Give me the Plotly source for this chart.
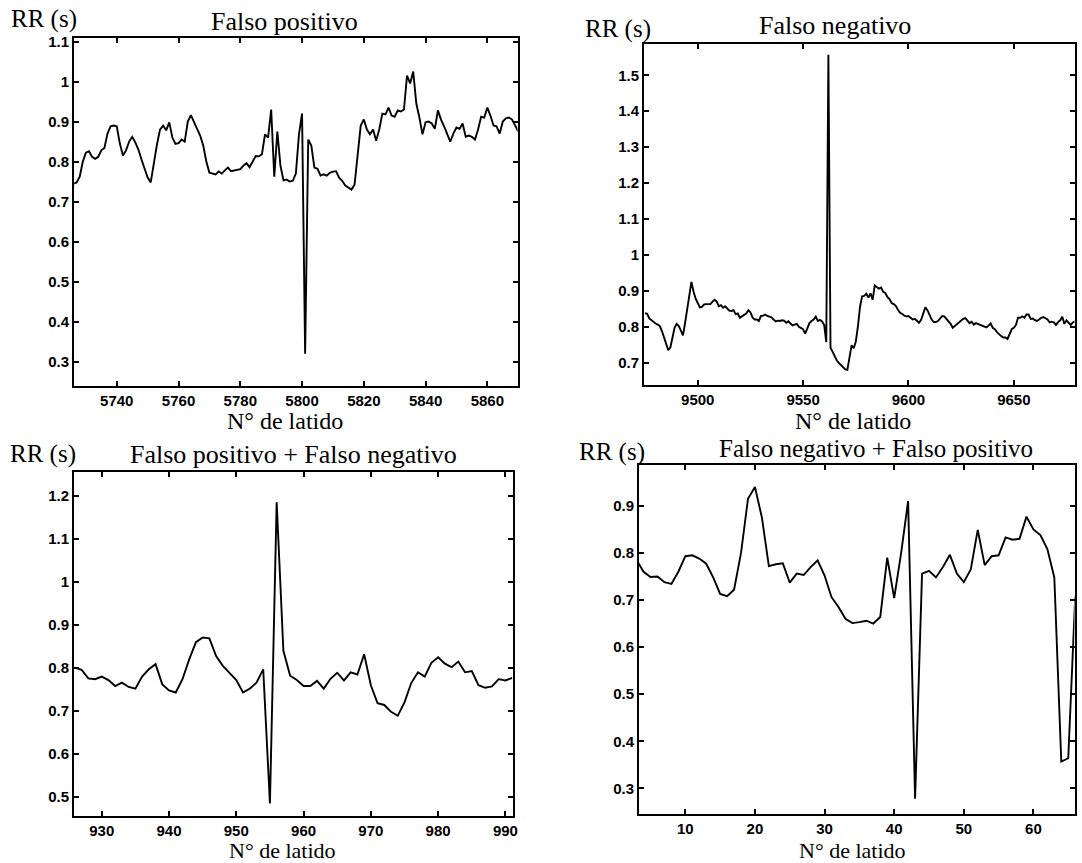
import plotly.graph_objects as go

W, H = 1082, 863

# ---------------- data ----------------
# Panel 1: Falso positivo (beats 5726..5870)
p1_start = 5726
p1_rr = [0.745, 0.748, 0.762, 0.800, 0.822, 0.826, 0.812, 0.807, 0.812, 0.828,
         0.834, 0.870, 0.888, 0.890, 0.888, 0.845, 0.815, 0.828, 0.850, 0.862,
         0.848, 0.830, 0.805, 0.782, 0.760, 0.748, 0.800, 0.842, 0.880, 0.890,
         0.878, 0.898, 0.860, 0.844, 0.846, 0.855, 0.850, 0.900, 0.916, 0.900,
         0.882, 0.865, 0.840, 0.800, 0.772, 0.770, 0.768, 0.775, 0.770, 0.778,
         0.785, 0.776, 0.778, 0.780, 0.781, 0.790, 0.796, 0.786, 0.800, 0.814,
         0.813, 0.818, 0.868, 0.860, 0.930, 0.762, 0.875, 0.790, 0.753, 0.755,
         0.750, 0.752, 0.770, 0.868, 0.920, 0.320, 0.855, 0.840, 0.785, 0.782,
         0.765, 0.768, 0.765, 0.772, 0.775, 0.776, 0.760, 0.752, 0.740, 0.735,
         0.730, 0.742, 0.820, 0.890, 0.905, 0.880, 0.868, 0.880, 0.852, 0.880,
         0.920, 0.918, 0.935, 0.915, 0.912, 0.928, 0.925, 0.930, 1.015, 0.995,
         1.025, 0.945, 0.910, 0.868, 0.898, 0.900, 0.895, 0.882, 0.928, 0.905,
         0.888, 0.870, 0.850, 0.870, 0.885, 0.882, 0.895, 0.862, 0.865, 0.862,
         0.855, 0.880, 0.912, 0.910, 0.935, 0.915, 0.890, 0.888, 0.870, 0.900,
         0.908, 0.910, 0.905, 0.890, 0.875]

# Panel 2: Falso negativo (beats 9475..9679)
p2_start = 9475
p2_rr = [0.838, 0.836, 0.823, 0.818, 0.815, 0.809, 0.806, 0.802, 0.788, 0.770,
         0.749, 0.735, 0.742, 0.770, 0.797, 0.808, 0.802, 0.789, 0.776, 0.811,
         0.852, 0.880, 0.925, 0.898, 0.878, 0.866, 0.854, 0.855, 0.862, 0.863,
         0.864, 0.863, 0.870, 0.875, 0.870, 0.857, 0.860, 0.853, 0.857, 0.852,
         0.845, 0.844, 0.846, 0.835, 0.837, 0.825, 0.828, 0.833, 0.837, 0.846,
         0.840, 0.826, 0.820, 0.820, 0.816, 0.830, 0.831, 0.834, 0.830, 0.827,
         0.826, 0.820, 0.815, 0.817, 0.816, 0.818, 0.817, 0.811, 0.815, 0.809,
         0.804, 0.806, 0.808, 0.800, 0.797, 0.793, 0.781, 0.797, 0.810, 0.816,
         0.820, 0.828, 0.816, 0.819, 0.815, 0.805, 0.757, 1.557, 0.742, 0.730,
         0.716, 0.706, 0.699, 0.693, 0.687, 0.681, 0.680, 0.712, 0.748, 0.740,
         0.758, 0.800, 0.855, 0.885, 0.886, 0.892, 0.881, 0.893, 0.875, 0.915,
         0.911, 0.906, 0.909, 0.897, 0.894, 0.883, 0.877, 0.866, 0.863, 0.858,
         0.847, 0.839, 0.836, 0.831, 0.829, 0.830, 0.825, 0.820, 0.822, 0.816,
         0.811, 0.819, 0.836, 0.854, 0.846, 0.834, 0.820, 0.813, 0.813, 0.816,
         0.824, 0.830, 0.829, 0.822, 0.814, 0.808, 0.797, 0.802, 0.806, 0.813,
         0.817, 0.822, 0.824, 0.818, 0.810, 0.814, 0.806, 0.810, 0.808, 0.804,
         0.803, 0.801, 0.798, 0.803, 0.809, 0.797, 0.793, 0.785, 0.779, 0.774,
         0.770, 0.770, 0.766, 0.779, 0.793, 0.797, 0.805, 0.825, 0.825, 0.829,
         0.825, 0.834, 0.834, 0.822, 0.823, 0.818, 0.816, 0.820, 0.825, 0.827,
         0.823, 0.820, 0.812, 0.814, 0.812, 0.805, 0.813, 0.818, 0.828, 0.808,
         0.818, 0.812, 0.805, 0.812, 0.815]

# Panel 3: Falso positivo + Falso negativo (beats 926..991)
p3_start = 926
p3_rr = [0.801, 0.796, 0.776, 0.774, 0.780, 0.772, 0.758, 0.766, 0.756, 0.752,
         0.780, 0.797, 0.809, 0.762, 0.748, 0.743, 0.774, 0.820, 0.860, 0.871,
         0.869, 0.828, 0.805, 0.789, 0.772, 0.743, 0.752, 0.766, 0.797, 0.485,
         1.186, 0.840, 0.782, 0.772, 0.758, 0.758, 0.770, 0.752, 0.775, 0.789,
         0.771, 0.790, 0.785, 0.832, 0.760, 0.718, 0.714, 0.698, 0.689, 0.720,
         0.765, 0.790, 0.780, 0.812, 0.825, 0.810, 0.802, 0.815, 0.790, 0.793,
         0.760, 0.754, 0.757, 0.774, 0.771, 0.777]

# Panel 4: Falso negativo + Falso positivo (beats 3..66)
p4_start = 3
p4_rr = [0.785, 0.760, 0.749, 0.750, 0.738, 0.734, 0.760, 0.793, 0.795, 0.788,
         0.777, 0.748, 0.713, 0.708, 0.722, 0.800, 0.915, 0.940, 0.875, 0.772,
         0.776, 0.778, 0.737, 0.756, 0.753, 0.770, 0.784, 0.752, 0.706, 0.685,
         0.660, 0.651, 0.653, 0.656, 0.650, 0.664, 0.790, 0.704, 0.800, 0.910,
         0.278, 0.756, 0.762, 0.748, 0.770, 0.796, 0.756, 0.738, 0.765, 0.849,
         0.774, 0.793, 0.795, 0.833, 0.828, 0.830, 0.877, 0.850, 0.838, 0.808,
         0.748, 0.357, 0.364, 0.706, 0.740]

titles = ["Falso positivo", "Falso negativo",
          "Falso positivo + Falso negativo", "Falso negativo + Falso positivo"]
ylabel = "RR (s)"
xlabel = "N° de latido"

x_ticks = [[5740, 5760, 5780, 5800, 5820, 5840, 5860],
           [9500, 9550, 9600, 9650],
           [930, 940, 950, 960, 970, 980, 990],
           [10, 20, 30, 40, 50, 60]]
y_ticks = [[0.3, 0.4, 0.5, 0.6, 0.7, 0.8, 0.9, 1.0, 1.1],
           [0.7, 0.8, 0.9, 1.0, 1.1, 1.2, 1.3, 1.4, 1.5],
           [0.5, 0.6, 0.7, 0.8, 0.9, 1.0, 1.1, 1.2],
           [0.3, 0.4, 0.5, 0.6, 0.7, 0.8, 0.9]]
y_ticktext = [["0.3", "0.4", "0.5", "0.6", "0.7", "0.8", "0.9", "1", "1.1"],
              ["0.7", "0.8", "0.9", "1", "1.1", "1.2", "1.3", "1.4", "1.5"],
              ["0.5", "0.6", "0.7", "0.8", "0.9", "1", "1.1", "1.2"],
              ["0.3", "0.4", "0.5", "0.6", "0.7", "0.8", "0.9"]]

x_ranges = [[5726.2, 5869.8], [9474.5, 9678.8], [925.9, 991.1], [3.35, 65.9]]
y_ranges = [[0.239, 1.110], [0.637, 1.587], [0.455, 1.2555], [0.2465, 0.986]]

# ---------------- layout helpers ----------------
def fx(px):
    return px / W

def fy(py):
    return 1 - py / H

# plot boxes in pixels: (left, right, top, bottom)
boxes = [(74.5, 520.0, 32.7, 383.3),
         (647.0, 1079.5, 39.3, 382.5),
         (74.5, 515.2, 470.0, 816.0),
         (642.0, 1079.5, 463.0, 813.3)]

series = [(p1_start, p1_rr), (p2_start, p2_rr), (p3_start, p3_rr), (p4_start, p4_rr)]

fig = go.Figure()
serif = "Liberation Serif, Times New Roman, serif"
sans = "Liberation Sans, Arial, sans-serif"

for i, (start, vals) in enumerate(series):
    k = "" if i == 0 else str(i + 1)
    xs = list(range(start, start + len(vals)))
    fig.add_trace(go.Scatter(x=xs, y=vals, mode="lines",
                             line=dict(color="black", width=1.9),
                             xaxis="x" + k, yaxis="y" + k, showlegend=False,
                             hoverinfo="skip"))
    l, r, t, b = boxes[i]
    common = dict(showline=True, linecolor="black", linewidth=2, mirror="ticks",
                  ticks="inside", ticklen=5, tickwidth=1.5, tickcolor="black",
                  showgrid=False, zeroline=False,
                  tickfont=dict(family=sans, size=15, color="black", weight="bold"))
    fig.update_layout(**{
        "xaxis" + k: dict(domain=[fx(l), fx(r)], range=x_ranges[i],
                          tickvals=x_ticks[i], ticktext=[str(v) for v in x_ticks[i]],
                          anchor="y" + k, **common),
        "yaxis" + k: dict(domain=[fy(b), fy(t)], range=y_ranges[i],
                          tickvals=y_ticks[i], ticktext=y_ticktext[i],
                          anchor="x" + k, **common),
    })

# text annotations (pixel centres)
title_pos = [(286, 17), (839, 21), (295, 452), (880, 446)]
title_size = [26, 26, 26, 25]
ylab_pos = [(44, 14), (621, 24), (43, 452), (615, 450)]
xlab_pos = [(286, 418.5), (857, 418.5), (284, 850.5), (856, 850.5)]
xlab_size = [24, 24, 22, 22]

ann = []
for i in range(4):
    ann.append(dict(text=titles[i], x=fx(title_pos[i][0]), y=fy(title_pos[i][1]),
                    xref="paper", yref="paper", showarrow=False,
                    xanchor="center", yanchor="middle",
                    font=dict(family=serif, size=title_size[i], color="black")))
    ann.append(dict(text=ylabel, x=fx(ylab_pos[i][0]), y=fy(ylab_pos[i][1]),
                    xref="paper", yref="paper", showarrow=False,
                    xanchor="center", yanchor="middle",
                    font=dict(family=serif, size=25, color="black")))
    ann.append(dict(text=xlabel, x=fx(xlab_pos[i][0]), y=fy(xlab_pos[i][1]),
                    xref="paper", yref="paper", showarrow=False,
                    xanchor="center", yanchor="middle",
                    font=dict(family=serif, size=xlab_size[i], color="black")))

fig.update_layout(width=W, height=H, autosize=False,
                  margin=dict(l=0, r=0, t=0, b=0),
                  paper_bgcolor="white", plot_bgcolor="white",
                  annotations=ann)

fig.write_html("out.html", config={"displayModeBar": False},
               post_script="document.body.style.margin='0';document.body.style.overflow='hidden';")
